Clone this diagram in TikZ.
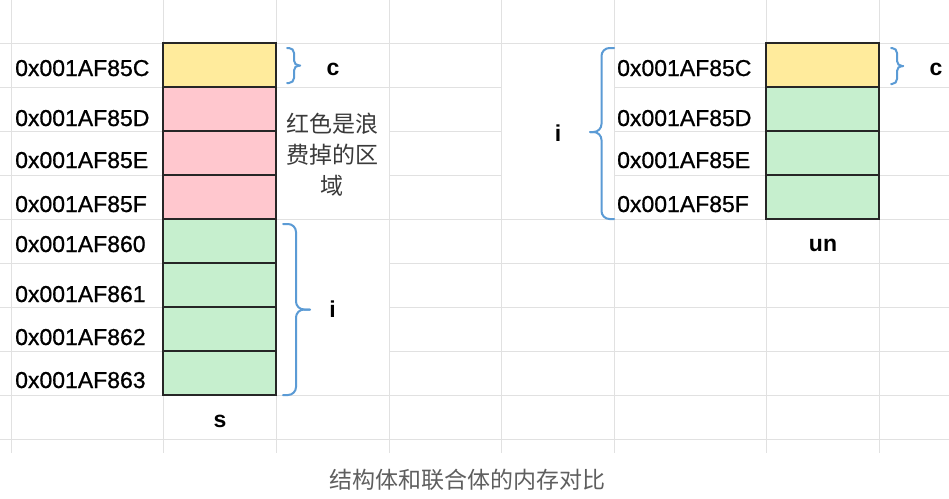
\documentclass[tikz,border=0pt]{standalone}
\usepackage{fontspec}
\setmainfont{Liberation Sans}
\newfontfamily\addrfont{Liberation Sans}[BoldFont=Liberation Sans, BoldFeatures={FakeBold=0.8}]
\newfontfamily\cjk{Noto Sans CJK SC}

\definecolor{gridgray}{HTML}{E1E1E1}
\definecolor{cellyellow}{HTML}{FFEB9C}
\definecolor{cellred}{HTML}{FFC7CE}
\definecolor{cellgreen}{HTML}{C6EFCE}
\definecolor{braceblue}{HTML}{5B9BD5}
\definecolor{notegray}{HTML}{3A3A3A}
\definecolor{captiongray}{HTML}{5F5F5F}

\tikzset{
  cell/.style={draw=black!85, line width=1.6pt, rectangle, minimum width=113pt, minimum height=44pt, inner sep=0pt},
  addr/.style={anchor=base west, inner sep=0pt, font=\addrfont\bfseries\fontsize{23}{28}\selectfont},
  lbl/.style={anchor=base, inner sep=0pt, font=\fontsize{23}{28}\selectfont\bfseries},
  brc/.style={draw=braceblue, line width=2pt, line cap=round, rounded corners=#1},
}

\begin{document}
\begin{tikzpicture}[x=1pt, y=-1pt]
			\fill[white] (0,0) rectangle (949,498);
			\useasboundingbox (0,0) rectangle (949,498);
			
			% sheet grid
			\begin{scope}[draw=gridgray, line width=1pt]
			\foreach \x in {11,163,276,389,501,614,766,879}
				\draw (\x,0) -- (\x,453);
			\foreach \y in {43,219,395,439}
				\draw (0,\y) -- (949,\y);
			\draw (0,87) -- (501,87) (614,87) -- (949,87);
			\foreach \y in {131,175}
				\draw (0,\y) -- (276,\y) (389,\y) -- (501,\y) (614,\y) -- (949,\y);
			\foreach \y in {263,307,351}
				\draw (0,\y) -- (276,\y) (389,\y) -- (949,\y);
			\end{scope}
			
			% struct s
			\foreach \k/\c in {1/cellyellow,2/cellred,3/cellred,4/cellred,5/cellgreen,6/cellgreen,7/cellgreen,8/cellgreen}
				\node (s\k) [cell, fill=\c] at (219.5,21+44*\k) {};
			\foreach \k/\t/\b in {1/85C/76,2/85D/126,3/85E/168,4/85F/212,5/860/252,6/861/302,7/862/345,8/863/388}
				\node (a\k) [addr] at (15,\b) {0x001AF\t};
			
			% union un
			\foreach \k/\c in {1/cellyellow,2/cellgreen,3/cellgreen,4/cellgreen}
				\node (u\k) [cell, fill=\c] at (822.5,21+44*\k) {};
			\foreach \k/\t/\b in {1/85C/76,2/85D/126,3/85E/168,4/85F/212}
				\node (b\k) [addr] at (617,\b) {0x001AF\t};
			
			% braces
			\coordinate (sc) at (300,65.5);
			\coordinate (si) at (310,309.5);
			\coordinate (ui) at (590,132);
			\coordinate (uc) at (903,66);
			\draw[brc=5pt] (287,48) -- (294,48) -- (294,65.5) -- (sc);
			\draw[brc=5pt] (287,83) -- (294,83) -- (294,65.5) -- (sc);
			\draw[brc=8pt] (283,224) -- (296,224) -- (296,309.5) -- (si);
			\draw[brc=8pt] (283,395) -- (296,395) -- (296,309.5) -- (si);
			\draw[brc=8pt] (614,48) -- (601.5,48) -- (601.5,132) -- (ui);
			\draw[brc=8pt] (614,219) -- (601.5,219) -- (601.5,132) -- (ui);
			\draw[brc=5pt] (891,48) -- (897,48) -- (897,66) -- (uc);
			\draw[brc=5pt] (891,84) -- (897,84) -- (897,66) -- (uc);
			
			\node (sC) [lbl] at (333,75) {c};
			\node (sI) [lbl] at (332.5,317) {i};
			\node (sName) [lbl] at (220,427) {s};
			\node (uI) [lbl] at (558,141) {i};
			\node (uC) [lbl] at (936,75) {c};
			\node (uName) [lbl] at (823,251) {un};
			
			\node (waste) [align=center, inner sep=0pt, text=notegray, font=\cjk\fontsize{23}{31}\selectfont] at (332,154.5) {红色是浪\\费掉的区\\域};
			\node (caption) [inner sep=0pt, text=captiongray, font=\cjk\fontsize{23}{28}\selectfont] at (467,480) {结构体和联合体的内存对比};
		\end{tikzpicture}
\end{document}
